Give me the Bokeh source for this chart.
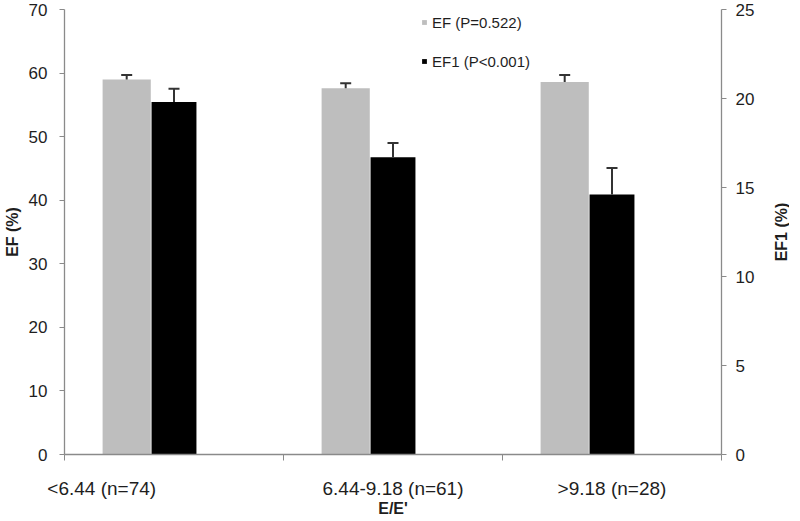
import numpy as np
from bokeh.plotting import figure
from bokeh.layouts import row
from bokeh.models import (Range1d, LinearAxis, FixedTicker, Whisker, TeeHead,
                          ColumnDataSource, Legend, LegendItem)
from bokeh.embed import file_html
from bokeh.resources import INLINE

# ---- data ----
categories = ["<6.44 (n=74)", "6.44-9.18 (n=61)", ">9.18 (n=28)"]
ef = [59.0, 57.6, 58.6]
ef_err = [0.7, 0.8, 1.1]
ef1 = [19.8, 16.7, 14.6]
ef1_err = [0.75, 0.8, 1.5]
left_ticks = [0, 10, 20, 30, 40, 50, 60, 70]
right_ticks = [0, 5, 10, 15, 20, 25]
series_labels = ["EF (P=0.522)", "EF1 (P<0.001)"]
x_title = "E/E'"
y_title = "EF (%)"
y2_title = "EF1 (%)"

# ---- layout constants ----
FONT = "Liberation Sans"
GREY = "#bebebe"
AXIS_COL = "#8a8a8a"
TEXT_COL = "#1e1e1e"
H = 519
TOP, BOTTOM = 9, 65
W_MAIN, W_STRIP = 769, 20
idx = np.arange(len(categories))
ef_off, ef1_off = 0.284, 0.5
label_pos = [0.17, 1.5, 2.5]

src = ColumnDataSource(dict(
    x_ef=idx + ef_off, ef=ef, ef_hi=np.array(ef) + np.array(ef_err),
    x_ef1=idx + ef1_off, ef1=ef1, ef1_hi=np.array(ef1) + np.array(ef1_err),
))

p = figure(width=W_MAIN, height=H, x_range=Range1d(0, 3), y_range=Range1d(0, 70),
           output_backend="svg", toolbar_location=None,
           min_border_left=55, min_border_right=48, min_border_top=TOP, min_border_bottom=BOTTOM)
p.extra_y_ranges = {"ef1": Range1d(0, 25)}
p.xgrid.visible = False
p.ygrid.visible = False
p.outline_line_color = None
p.background_fill_color = "white"
p.border_fill_color = "white"

r1 = p.vbar(x="x_ef", top="ef", width=0.22, source=src, fill_color=GREY, line_color=None)
r2 = p.vbar(x="x_ef1", top="ef1", width=0.205, source=src, fill_color="black",
            line_color=None, y_range_name="ef1")

for base, lo, hi, rn in [("x_ef", "ef", "ef_hi", "default"), ("x_ef1", "ef1", "ef1_hi", "ef1")]:
    w = Whisker(base=base, lower=lo, upper=hi, source=src, dimension="height",
                line_color="#333333", line_width=2, y_range_name=rn, level="overlay",
                upper_head=TeeHead(size=11, line_color="#333333", line_width=2),
                lower_head=None)
    p.add_layout(w)

# x axis
xa = p.xaxis[0]
xa.ticker = FixedTicker(ticks=label_pos, minor_ticks=[0, 1, 2, 3])
xa.major_label_overrides = {pos: lab for pos, lab in zip(label_pos, categories)}
xa.major_tick_out = 0
xa.major_tick_in = 0
xa.minor_tick_out = 6
xa.minor_tick_in = 0
xa.minor_tick_line_color = AXIS_COL
xa.axis_line_color = AXIS_COL
xa.axis_line_width = 1.3
xa.major_label_text_font = FONT
xa.major_label_text_font_size = "19px"
xa.major_label_text_color = TEXT_COL
xa.major_label_standoff = 17
xa.axis_label = x_title
xa.axis_label_text_font = FONT
xa.axis_label_text_font_size = "16px"
xa.axis_label_text_font_style = "bold"
xa.axis_label_text_color = TEXT_COL
xa.axis_label_standoff = -2

# left y axis
ya = p.yaxis[0]
ya.ticker = FixedTicker(ticks=left_ticks)
ya.major_tick_out = 5
ya.major_tick_in = 0
ya.minor_tick_out = 0
ya.minor_tick_in = 0
ya.major_tick_line_color = AXIS_COL
ya.axis_line_color = AXIS_COL
ya.axis_line_width = 1.3
ya.major_label_text_font = FONT
ya.major_label_text_font_size = "17px"
ya.major_label_text_color = TEXT_COL
ya.major_label_standoff = 12
ya.axis_label = y_title
ya.axis_label_text_font = FONT
ya.axis_label_text_font_size = "16px"
ya.axis_label_text_font_style = "bold"
ya.axis_label_text_color = TEXT_COL
ya.axis_label_standoff = 5

# right y axis (ticks + tick labels)
ra = LinearAxis(y_range_name="ef1", ticker=FixedTicker(ticks=right_ticks))
ra.major_tick_out = 5
ra.major_tick_in = 0
ra.minor_tick_out = 0
ra.minor_tick_in = 0
ra.major_tick_line_color = AXIS_COL
ra.axis_line_color = AXIS_COL
ra.axis_line_width = 1.3
ra.major_label_text_font = FONT
ra.major_label_text_font_size = "17px"
ra.major_label_text_color = TEXT_COL
ra.major_label_standoff = 9
p.add_layout(ra, "right")

legend = Legend(items=[LegendItem(label=series_labels[0], renderers=[r1]),
                       LegendItem(label=series_labels[1], renderers=[r2])],
                location=(357, 383), orientation="vertical",
                glyph_width=6, glyph_height=6, label_height=20, label_standoff=5,
                spacing=19, padding=0, margin=0,
                label_text_font=FONT, label_text_font_size="15px", label_text_color=TEXT_COL,
                border_line_color=None, background_fill_alpha=0)
p.add_layout(legend)

# narrow strip carrying the right-hand axis title (reads bottom-to-top)
p2 = figure(width=W_STRIP, height=H, x_range=Range1d(0, 1), y_range=Range1d(0, 25),
            output_backend="svg", toolbar_location=None,
            min_border_left=19, min_border_right=0, min_border_top=TOP, min_border_bottom=BOTTOM)
p2.xgrid.visible = False
p2.ygrid.visible = False
p2.xaxis.visible = False
p2.outline_line_color = None
p2.background_fill_color = "white"
p2.border_fill_color = "white"
ta = p2.yaxis[0]
ta.ticker = FixedTicker(ticks=[])
ta.axis_line_color = None
ta.major_tick_line_color = None
ta.minor_tick_line_color = None
ta.major_tick_out = 0
ta.minor_tick_out = 0
ta.major_label_text_font_size = "0px"
ta.major_label_standoff = 0
ta.axis_label = y2_title
ta.axis_label_text_font = FONT
ta.axis_label_text_font_size = "16px"
ta.axis_label_text_font_style = "bold"
ta.axis_label_text_color = TEXT_COL
ta.axis_label_standoff = 0

layout = row(p, p2, spacing=0)
open("out.html", "w").write(file_html(layout, INLINE))
